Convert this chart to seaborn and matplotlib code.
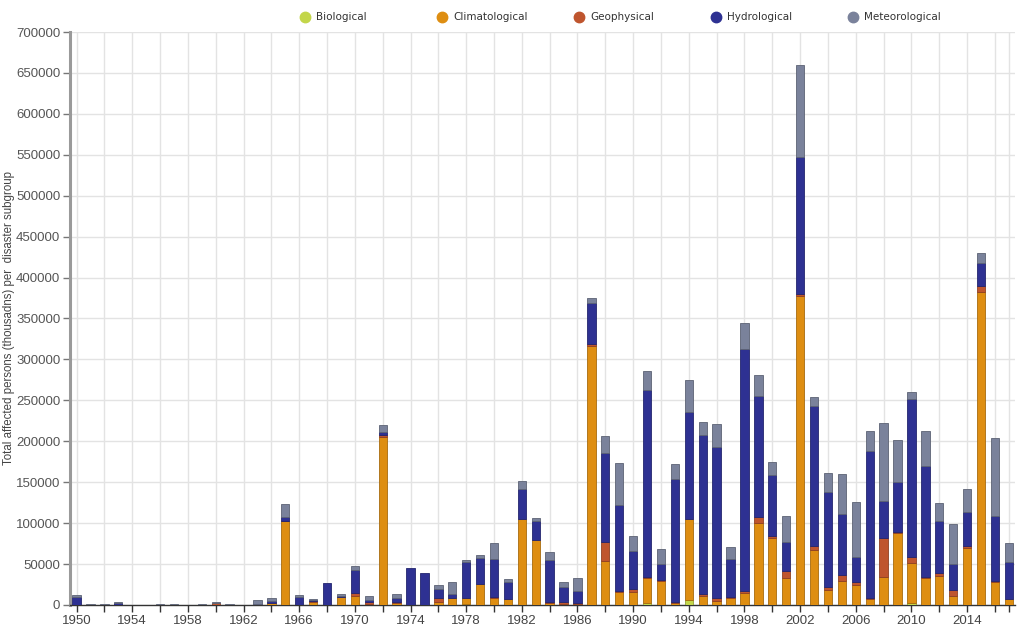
import numpy as np
import pandas as pd
import matplotlib
matplotlib.use("Agg")
import matplotlib.pyplot as plt
from matplotlib.lines import Line2D
import seaborn as sns

years = list(range(1950, 2018))

biological = [0]*28 + [1500] + [0]*12 + [2500, 0, 0, 6000] + [0]*15 + [3000] + [0]*7
climatological = [
    0, 0, 0, 0, 0, 0, 0, 0, 0, 0,
    0, 0, 0, 0, 2400, 102000, 0, 3300, 0, 9500,
    11000, 1500, 205600, 3000, 0, 0, 4000, 9000, 7500, 26000,
    9000, 7300, 104600, 80000, 2000, 1500, 1000, 317000, 53800, 16000,
    15500, 30000, 29300, 2500, 99000, 11000, 5300, 9000, 15000, 99800,
    81800, 32600, 377000, 67200, 18300, 29300, 24400, 7700, 34600, 87500,
    48700, 32600, 35400, 11000, 69200, 382000, 28000, 6900]
geophysical = [
    0, 0, 0, 0, 0, 0, 0, 0, 0, 0,
    2500, 0, 0, 0, 0, 500, 0, 1000, 0, 0,
    3300, 2500, 2000, 1000, 0, 0, 5000, 0, 0, 0,
    1200, 0, 0, 0, 2000, 2500, 2000, 1500, 23600, 1000,
    3600, 2000, 1200, 1200, 0, 2000, 3700, 1200, 2500, 7300,
    2900, 9300, 2500, 4900, 3300, 6900, 3700, 1200, 46800, 2100,
    7300, 1200, 3300, 7300, 2900, 7700, 1300, 0]
hydrological = [
    10200, 0, 0, 2500, 0, 0, 0, 0, 0, 0,
    0, 0, 0, 1000, 2500, 4500, 9400, 1500, 26500, 1800,
    28500, 2000, 4000, 5000, 45000, 39500, 11000, 4400, 43000, 31800,
    46000, 21200, 37500, 22800, 51000, 17600, 14500, 50000, 107900, 104700,
    47300, 228000, 19600, 149800, 130800, 195000, 184000, 45600, 294800, 148600,
    74100, 35100, 168200, 171000, 116400, 75400, 30900, 179600, 46100, 61100,
    192200, 136400, 63900, 31800, 41500, 28500, 79800, 46000]
meteorological = [
    2000, 1500, 1500, 800, 0, 0, 1200, 1200, 0, 1000,
    800, 1200, 0, 5500, 3600, 16300, 3200, 1500, 0, 2000,
    4800, 5300, 7800, 4400, 0, 0, 4400, 14300, 3300, 3700,
    19500, 3300, 9800, 2900, 9700, 6500, 15900, 7000, 21600, 51300,
    17900, 23300, 18700, 18700, 39100, 15500, 27700, 14600, 31700, 25700,
    15500, 31700, 112000, 11400, 23700, 48800, 67200, 24500, 95200, 51300,
    9400, 42800, 21600, 49300, 27700, 12200, 94900, 22400]

categories = ["Biological", "Climatological", "Geophysical", "Hydrological", "Meteorological"]
colors = ["#c3d64a", "#de8e12", "#bf552e", "#2e3192", "#7a829b"]
series = [biological, climatological, geophysical, hydrological, meteorological]

rows = []
for cat, vals in zip(categories, series):
    for y, v in zip(years, vals):
        rows.append({"year": y, "value": v, "subgroup": cat})
df = pd.DataFrame(rows)

sns.set_theme(style="white")
plt.rcParams['font.family'] = ['Liberation Sans', 'DejaVu Sans']

fig = plt.figure(figsize=(10.24, 6.3), dpi=100)
ax = fig.add_axes([0.0684, 0.0397, 0.9229, 0.9095])

# seaborn stacks the first hue level on top, so reverse the order
sns.histplot(data=df, x="year", weights="value", hue="subgroup",
             hue_order=categories[::-1], palette=dict(zip(categories, colors)),
             multiple="stack", discrete=True, shrink=0.6, alpha=1,
             linewidth=0.6, legend=False, ax=ax, zorder=3)

for p in ax.patches:
    fc = p.get_facecolor()
    if p.get_height() <= 0:
        p.set_linewidth(0)
    else:
        r, g, b, a = fc
        p.set_edgecolor((r*0.75, g*0.75, b*0.75, 1))

ax.set_xlim(1949.53, 2017.45)
ax.set_ylim(0, 700000)
ax.set_yticks(np.arange(0, 700001, 50000))
ax.set_yticklabels([str(v) for v in range(0, 700001, 50000)])
ax.set_xticks(list(range(1950, 2015, 4)))
ax.set_xticks(list(range(1952, 2017, 4)) + [2017], minor=True)

ax.grid(True, which="both", axis="x", color="#e3e3e3", linewidth=1, zorder=0)
ax.grid(True, which="major", axis="y", color="#e3e3e3", linewidth=1, zorder=0)
ax.set_axisbelow(True)

for s in ["top", "right"]:
    ax.spines[s].set_visible(False)
ax.spines["left"].set_color("#9a9a9a")
ax.spines["left"].set_linewidth(2.2)
ax.spines["bottom"].set_color("#333333")
ax.spines["bottom"].set_linewidth(1)

ax.tick_params(axis="y", which="major", length=5, width=1, color="#777777",
               labelsize=9.5, labelcolor="#555555", pad=2, left=True)
ax.tick_params(axis="x", which="both", length=5, width=1, color="#333333",
               labelsize=9.5, labelcolor="#444444", pad=2, bottom=True)

ax.set_xlabel("")
ax.set_ylabel("Total affected persons (thousadns) per  disaster subgroup",
              fontsize=8.3, color="#444444", labelpad=1)

leg_x = [305, 442, 579, 716, 853]
for x, cat, col in zip(leg_x, categories, colors):
    fx = x / 1024
    fy = 1 - 17 / 630
    fig.add_artist(Line2D([fx], [fy], marker="o", markersize=7.5, color=col,
                          linestyle="none", transform=fig.transFigure))
    fig.text(fx + 11 / 1024, fy, cat, va="center", ha="left", fontsize=7.5,
             color="#333333", family=["Liberation Sans Narrow", "DejaVu Sans"])

fig.savefig("out.png", dpi=100)
